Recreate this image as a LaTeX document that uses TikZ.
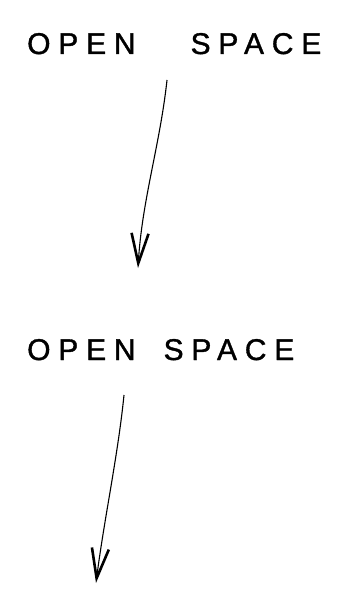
\documentclass[tikz,border=0pt]{standalone}
\usepackage{fontspec}
\newfontfamily\hand[LetterSpace=26,FakeBold=1.2]{Liberation Sans}
\usetikzlibrary{arrows.meta}
\begin{document}
\begin{tikzpicture}[x=1pt,y=1pt,
  label/.style={anchor=base west,inner sep=0pt,font=\hand\fontsize{30}{30}\selectfont},
  flow/.style={line width=1.1pt,-{Straight Barb[length=30pt,width=17pt,line width=2.6pt]}}]
\useasboundingbox (0,0) rectangle (346,-591);
\node[label] (t1) at (27,-54) {OPEN\hspace{55pt}SPACE};
\node[label] (t2) at (27,-360) {OPEN\hspace{28pt}SPACE};
\coordinate (s1) at (167,-80);
\coordinate (e1) at (138,-268);
\coordinate (s2) at (124,-395);
\coordinate (e2) at (96,-583);
\draw[flow] (s1) .. controls (160,-145) and (142,-200) .. (e1);
\draw[flow] (s2) .. controls (118,-455) and (104,-520) .. (e2);
\end{tikzpicture}
\end{document}
